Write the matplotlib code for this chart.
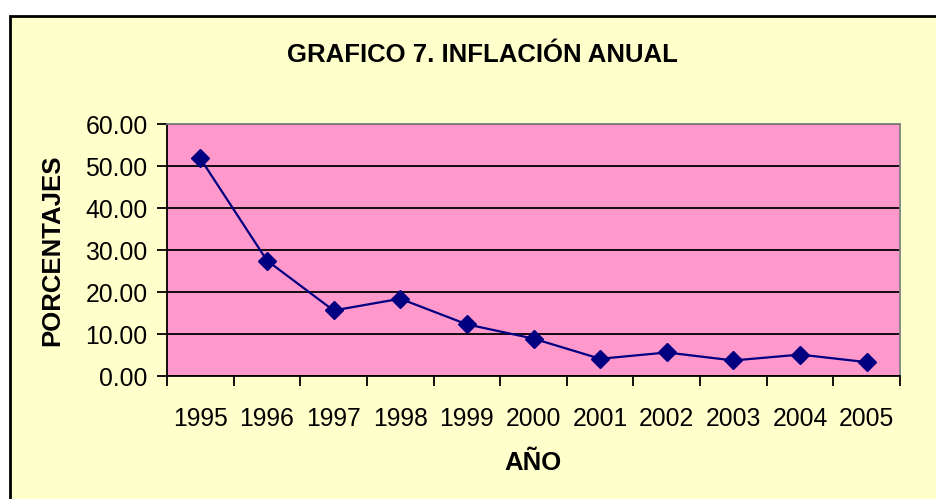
import matplotlib
matplotlib.use("Agg")
import matplotlib.pyplot as plt
from matplotlib.patches import Rectangle

anios = ["1995", "1996", "1997", "1998", "1999", "2000",
         "2001", "2002", "2003", "2004", "2005"]
inflacion = [51.8, 27.5, 15.6, 18.4, 12.3, 8.9, 4.1, 5.6, 3.7, 5.1, 3.3]
yticks = [0, 10, 20, 30, 40, 50, 60]

plt.rcParams['font.family'] = ['Liberation Sans', 'DejaVu Sans']

fig = plt.figure(figsize=(9.36, 4.99), dpi=100)
fig.patch.set_facecolor("white")

# marco amarillo del grafico (sale por la derecha y abajo)
marco = Rectangle((10 / 936, -0.05), 1.0, 1 - 16 / 499 + 0.05,
                  transform=fig.transFigure, facecolor="#FFFFCC",
                  edgecolor="black", linewidth=2, zorder=0)
fig.patches.append(marco)

ax = fig.add_axes([167 / 936, 1 - 376 / 499, (900 - 167) / 936, (376 - 124) / 499])
ax.set_zorder(2)
ax.set_facecolor("#FF99CC")

x = list(range(len(anios)))
ax.plot(x, inflacion, color="#000080", linewidth=1.6, marker="D",
        markersize=9.5, zorder=3, clip_on=False)

ax.set_xlim(-0.5, len(anios) - 0.5)
ax.set_ylim(0, 60)
ax.set_yticks(yticks)
ax.set_yticklabels([f"{v:.2f}" for v in yticks], fontsize=17.8)
ax.yaxis.grid(True, color="black", linewidth=1.3)
ax.set_axisbelow(True)

ax.set_xticks([i - 0.5 for i in range(len(anios) + 1)])
ax.set_xticklabels([])
ax.set_xticks(x, minor=True)
ax.set_xticklabels(anios, minor=True, fontsize=17.8)
ax.tick_params(axis="x", which="major", direction="out", length=7, width=1.3)
ax.tick_params(axis="x", which="minor", length=0, pad=22)
ax.tick_params(axis="y", direction="out", length=7, width=1.3, pad=7)

for lado in ["top", "right"]:
    ax.spines[lado].set_color("gray")
    ax.spines[lado].set_linewidth(1.3)
for lado in ["left", "bottom"]:
    ax.spines[lado].set_color("black")
    ax.spines[lado].set_linewidth(1.3)

fig.text(482 / 936, 1 - 55 / 499, "GRAFICO 7. INFLACIÓN ANUAL",
         ha="center", va="center", fontsize=18.5, fontweight="bold")
fig.text(52 / 936, 1 - 250 / 499, "PORCENTAJES", rotation=90,
         ha="center", va="center", fontsize=18.5, fontweight="bold")
fig.text(533 / 936, 1 - 463 / 499, "AÑO",
         ha="center", va="center", fontsize=18.5, fontweight="bold")

fig.savefig("out.png", dpi=100)
